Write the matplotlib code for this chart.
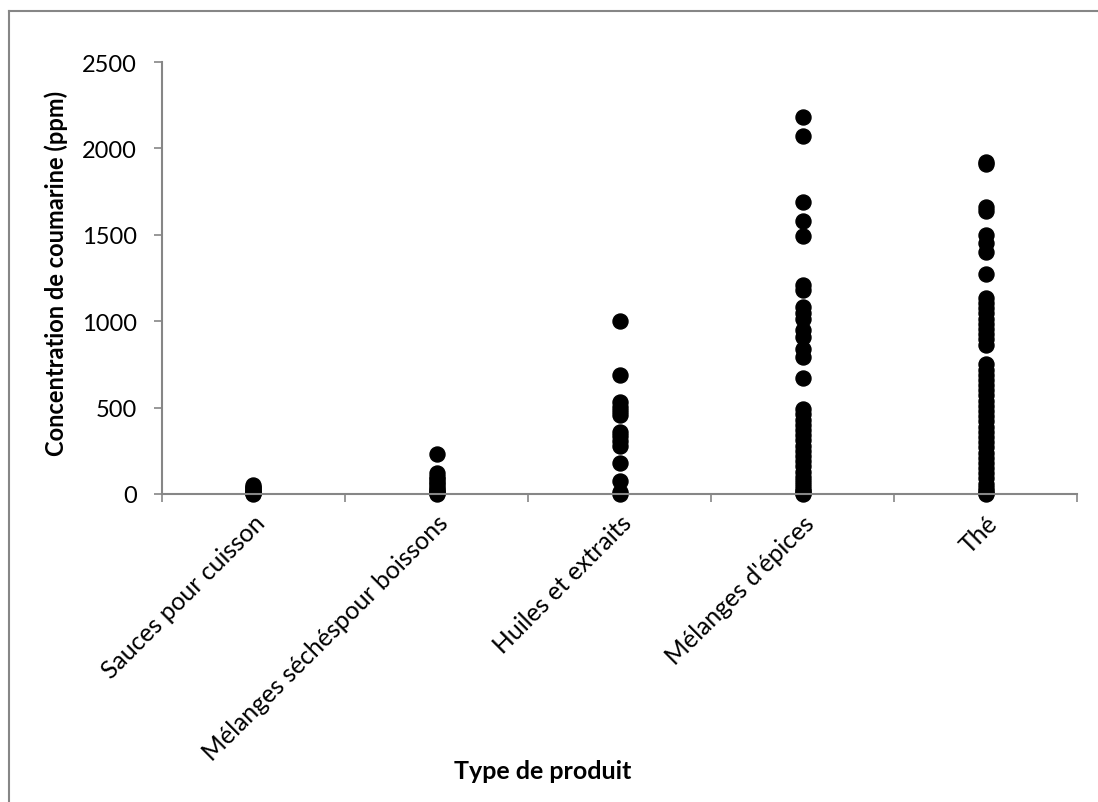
import numpy as np
import matplotlib
matplotlib.use("Agg")
from matplotlib import pyplot as plt
from matplotlib.lines import Line2D

plt.rcParams['font.family'] = ['Lato', 'DejaVu Sans']

categories = ["Sauces pour cuisson", "Mélanges séchéspour boissons",
              "Huiles et extraits", "Mélanges d'épices", "Thé"]

# concentrations (ppm), one list per category
sauces = [50, 42, 35, 28, 20, 14, 8, 3, 0]
melanges_seches = [233, 120, 100, 85, 70, 55, 42, 30, 20, 12, 5, 0]
huiles = [1000, 690, 530, 505, 480, 455, 360, 335, 305, 275, 180, 77, 12, 0]
epices = [2180, 2073, 1690, 1582, 1495, 1212, 1178, 1080, 1050, 1010, 950,
          910, 840, 790, 670, 492, 460, 430, 400, 370, 340, 310, 280, 250,
          220, 190, 160, 130, 100, 75, 50, 30, 15, 5, 0]
the = [1920, 1910, 1660, 1640, 1500, 1450, 1400, 1273, 1134, 1105, 1075,
       1045, 1015, 985, 955, 925, 895, 862, 750, 720, 690, 660, 630, 600,
       570, 540, 510, 480, 450, 420, 390, 360, 330, 300, 270, 240, 210, 180,
       150, 120, 90, 60, 35, 15, 5, 0]

series = [sauces, melanges_seches, huiles, epices, the]
yticks = [0, 500, 1000, 1500, 2000, 2500]

grey = '#868686'

fig = plt.figure(figsize=(10.98, 8.03), dpi=100)
ax = fig.add_axes([0.1475, 0.3836, 0.8335, 0.5379])

for i, vals in enumerate(series):
    ax.plot(np.full(len(vals), i + 1), vals, 'o', color='black',
            markersize=10.8, linestyle='none', clip_on=False)

ax.set_xlim(0.5, 5.5)
ax.set_ylim(0, 2500)
ax.set_yticks(yticks)
ax.set_yticklabels([str(v) for v in yticks], fontsize=17)

ax.set_xticks(np.arange(1, 6))
ax.set_xticklabels(categories, rotation=45, ha='right', va='top',
                   rotation_mode='anchor', fontsize=17.8)
ax.set_xticks(np.arange(0.5, 6.0, 1.0), minor=True)
ax.tick_params(axis='x', which='major', length=0, pad=12)
ax.tick_params(axis='x', which='minor', length=6, color=grey, width=1.2, direction='out')
ax.tick_params(axis='y', length=6, color=grey, width=1.2, direction='out', pad=12)

for s in ['top', 'right']:
    ax.spines[s].set_visible(False)
for s in ['left', 'bottom']:
    ax.spines[s].set_color(grey)
    ax.spines[s].set_linewidth(1.5)

# axis titles placed directly on the figure
fig.text(56 / 1098, 1 - 273 / 803, "Concentration de coumarine (ppm)", fontsize=17,
         fontweight='bold', rotation=90, ha='center', va='center')
fig.text(543 / 1098, 1 - 772 / 803, "Type de produit", fontsize=18,
         fontweight='bold', ha='center', va='center')

# outer chart border (only left and top edges fall inside the picture)
fig.add_artist(Line2D([9 / 1098, 9 / 1098], [0, 1 - 12 / 803], color=grey, lw=1.5))
fig.add_artist(Line2D([9 / 1098, 1], [1 - 12 / 803, 1 - 12 / 803], color=grey, lw=1.5))

fig.savefig("out.png", dpi=100)
